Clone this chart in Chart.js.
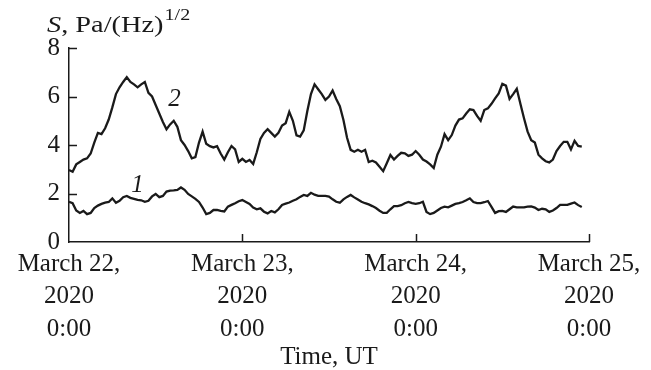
<!DOCTYPE html>
<html>
<head>
<meta charset="utf-8">
<script src="https://cdn.jsdelivr.net/npm/chart.js@4.4.0/dist/chart.umd.min.js"></script>
<style>
  html, body { margin: 0; padding: 0; background: #fff; }
  #wrap { width: 651px; height: 370px; }
</style>
</head>
<body>
<div id="wrap"><canvas id="chart" width="651" height="370"></canvas></div>
<script>
// ===============================
// Data (half-hour samples, starting March 22 0:00 UT)
// ===============================
const series1 = [
    1.66, 1.6, 1.3, 1.2, 1.28, 1.15, 1.2, 1.4, 1.5, 1.57,
    1.62, 1.65, 1.8, 1.62, 1.7, 1.85, 1.9, 1.82, 1.78, 1.74,
    1.72, 1.66, 1.7, 1.88, 1.98, 1.85, 1.9, 2.08, 2.12, 2.13,
    2.15, 2.25, 2.15, 1.98, 1.88, 1.78, 1.65, 1.42, 1.15, 1.2,
    1.32, 1.32, 1.28, 1.26, 1.46, 1.53, 1.6, 1.68, 1.73, 1.65,
    1.57, 1.42, 1.35, 1.39, 1.25, 1.18, 1.28, 1.22, 1.35, 1.53,
    1.58, 1.63, 1.7, 1.76, 1.86, 1.94, 1.9, 2.03, 1.95, 1.9,
    1.9, 1.9, 1.87, 1.76, 1.66, 1.62, 1.76, 1.86, 1.94, 1.84,
    1.75, 1.66, 1.6, 1.55, 1.48, 1.4, 1.29, 1.2, 1.2, 1.35,
    1.48, 1.48, 1.52, 1.6, 1.65, 1.6, 1.57, 1.6, 1.66, 1.24,
    1.15, 1.2, 1.3, 1.4, 1.46, 1.43, 1.5, 1.57, 1.6, 1.65,
    1.72, 1.8, 1.65, 1.6, 1.6, 1.64, 1.69, 1.45, 1.2, 1.27,
    1.28, 1.24, 1.35, 1.46, 1.43, 1.43, 1.43, 1.46, 1.47, 1.42,
    1.32, 1.37, 1.35, 1.24, 1.3, 1.4, 1.53, 1.53, 1.53, 1.58,
    1.63, 1.52, 1.44
];

const series2 = [
    2.97, 2.9, 3.2, 3.3, 3.4, 3.45, 3.65, 4.1, 4.5, 4.45,
    4.69, 5.05, 5.55, 6.1, 6.38, 6.6, 6.8, 6.6, 6.5, 6.38,
    6.5, 6.6, 6.15, 6.0, 5.65, 5.3, 4.95, 4.65, 4.85, 5.0,
    4.75, 4.2, 4.0, 3.75, 3.45, 3.5, 4.1, 4.55, 4.05, 3.95,
    3.9, 3.95, 3.65, 3.4, 3.7, 3.96, 3.82, 3.3, 3.43, 3.3,
    3.38, 3.22, 3.7, 4.25, 4.5, 4.65, 4.5, 4.35, 4.5, 4.8,
    4.9, 5.37, 5.0, 4.4, 4.35, 4.6, 5.4, 6.1, 6.5, 6.3,
    6.1, 5.86, 6.0, 6.25, 5.9, 5.6, 5.03, 4.3, 3.8, 3.72,
    3.8, 3.72, 3.8, 3.3, 3.35, 3.28, 3.1, 2.92, 3.25, 3.59,
    3.4, 3.55, 3.68, 3.66, 3.55, 3.6, 3.75, 3.6, 3.4, 3.32,
    3.2, 3.05, 3.6, 3.93, 4.45, 4.2, 4.41, 4.8, 5.05, 5.1,
    5.3, 5.47, 5.44, 5.2, 5.0, 5.44, 5.51, 5.7, 5.92, 6.13,
    6.52, 6.45, 5.9, 6.1, 6.32, 5.7, 5.1, 4.55, 4.2, 4.1,
    3.6, 3.45, 3.33, 3.28, 3.4, 3.75, 3.96, 4.13, 4.13, 3.82,
    4.17, 3.96, 3.93
];

// hours since March 22 0:00
const hours = series2.map((_, i) => i * 0.5);

const xTicks = [0, 24, 48, 72];
const xTickLabels = [
    ['March 22,', '2020', '0:00'],
    ['March 23,', '2020', '0:00'],
    ['March 24,', '2020', '0:00'],
    ['March 25,', '2020', '0:00']
];
const yTicks = [0, 2, 4, 6, 8];

// curve labels: [text, hour, value]
const curveLabels = [
    ['1', 9.5, 2.35],
    ['2', 14.6, 5.9]
];

const SERIF = "'Liberation Serif', 'DejaVu Serif', serif";
const INK = '#1a1a1a';
const STRETCH = 1.18; // reference lettering is a bit wide

// ===============================
// Plugin: inward ticks, y title, curve numbers
// ===============================
const extras = {
    id: 'extras',
    afterDraw(chart) {
        const { ctx, chartArea, scales: { x, y } } = chart;
        ctx.save();
        ctx.strokeStyle = INK;
        ctx.lineWidth = 1.5;
        ctx.beginPath();
        yTicks.forEach(v => {
            if (v === 0) return;
            const py = Math.round(y.getPixelForValue(v)) + 0.5;
            ctx.moveTo(chartArea.left, py);
            ctx.lineTo(chartArea.left + 8, py);
        });
        xTicks.forEach(v => {
            if (v === 0) return;
            const px = Math.round(x.getPixelForValue(v)) + 0.5;
            ctx.moveTo(px, chartArea.bottom);
            ctx.lineTo(px, chartArea.bottom - 8);
        });
        ctx.stroke();

        // y axis title: S, Pa/(Hz)^1/2
        ctx.fillStyle = INK;
        ctx.textBaseline = 'alphabetic';
        ctx.textAlign = 'left';
        ctx.save();
        ctx.translate(47, 32);
        ctx.scale(STRETCH, 1);
        let tx = 0;
        ctx.font = 'italic 24px ' + SERIF;
        ctx.fillText('S', tx, 0);
        tx += ctx.measureText('S').width;
        ctx.font = '24px ' + SERIF;
        ctx.fillText(', Pa/(Hz)', tx, 0);
        tx += ctx.measureText(', Pa/(Hz)').width + 1;
        ctx.font = '17px ' + SERIF;
        ctx.fillText('1/2', tx, -12);
        ctx.restore();

        // curve numbers
        ctx.font = 'italic 25px ' + SERIF;
        ctx.textAlign = 'center';
        ctx.textBaseline = 'middle';
        curveLabels.forEach(([t, h, v]) => {
            ctx.fillText(t, x.getPixelForValue(h), y.getPixelForValue(v));
        });
        ctx.restore();
    }
};

// ===============================
// Chart
// ===============================
const ctx = document.getElementById('chart').getContext('2d');
new Chart(ctx, {
    type: 'line',
    data: {
        labels: hours,
        datasets: [
            {
                label: '1',
                data: series1,
                borderColor: INK,
                borderWidth: 2.3,
                pointRadius: 0,
                tension: 0,
                fill: false
            },
            {
                label: '2',
                data: series2,
                borderColor: INK,
                borderWidth: 2.3,
                pointRadius: 0,
                tension: 0,
                fill: false
            }
        ]
    },
    options: {
        responsive: false,
        animation: false,
        events: [],
        layout: { padding: { left: 0, top: 48, right: 62, bottom: 0 } },
        plugins: {
            legend: { display: false },
            tooltip: { enabled: false }
        },
        scales: {
            x: {
                type: 'linear',
                min: 0,
                max: 72,
                afterFit: s => { s.height = 128; },
                afterBuildTicks: s => { s.ticks = xTicks.map(v => ({ value: v })); },
                grid: { display: false, drawTicks: false },
                border: { display: true, color: INK, width: 1.5 },
                ticks: {
                    color: INK,
                    padding: 6,
                    maxRotation: 0,
                    autoSkip: false,
                    font: { family: SERIF, size: 25, lineHeight: 1.3 },
                    callback: (v) => xTickLabels[xTicks.indexOf(v)]
                },
                title: {
                    display: true,
                    text: 'Time, UT',
                    color: INK,
                    padding: { top: 0, bottom: 0 },
                    font: { family: SERIF, size: 25, lineHeight: 1 }
                }
            },
            y: {
                min: 0,
                max: 8,
                afterFit: s => { s.width = 69; },
                afterBuildTicks: s => { s.ticks = yTicks.map(v => ({ value: v })); },
                grid: { display: false, drawTicks: false },
                border: { display: true, color: INK, width: 1.5 },
                ticks: {
                    color: INK,
                    padding: 9,
                    font: { family: SERIF, size: 25 }
                }
            }
        }
    },
    plugins: [extras]
});
</script>
</body>
</html>
